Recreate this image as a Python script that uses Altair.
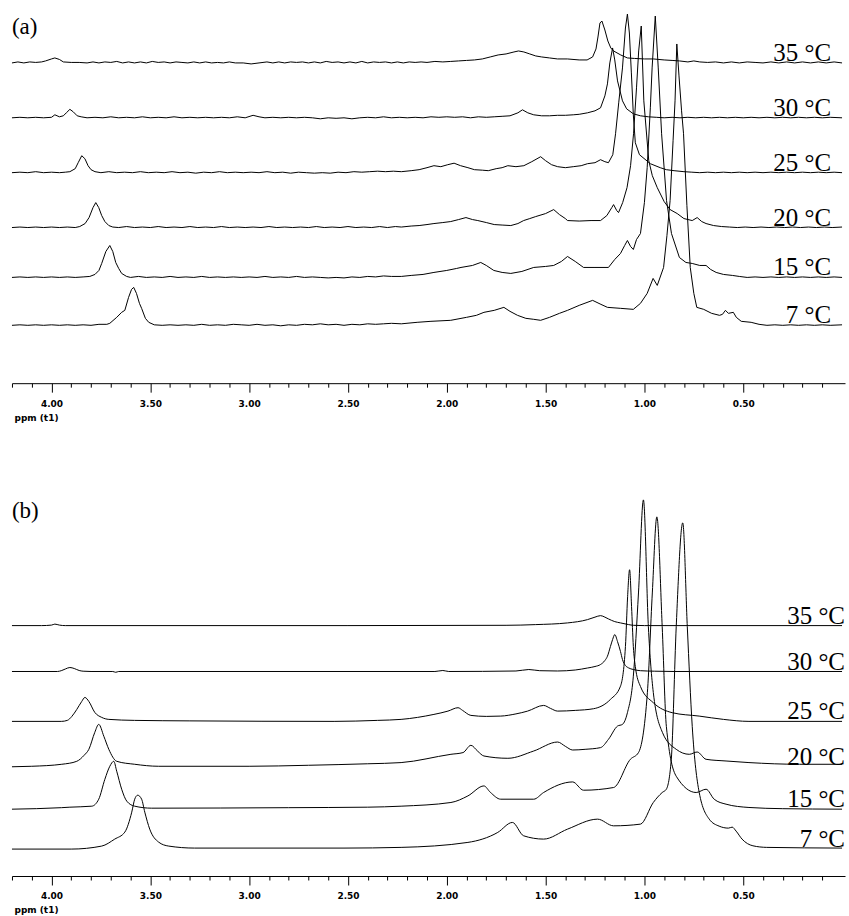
import altair as alt
import pandas as pd

# ---------------- data (ppm, intensity a.u.) ----------------
TEMPS = ["35 °C", "30 °C", "25 °C", "20 °C", "15 °C", "7 °C"]
A_OFFSETS = [321, 266, 211, 156, 106, 58]
B_OFFSETS = [251, 205, 155, 109, 67, 27]
PPM_TICKS = [4.2, 4.1, 4.0, 3.9, 3.8, 3.7, 3.6, 3.5, 3.4, 3.3, 3.2, 3.1, 3.0,
             2.9, 2.8, 2.7, 2.6, 2.5, 2.4, 2.3, 2.2, 2.1, 2.0, 1.9, 1.8, 1.7,
             1.6, 1.5, 1.4, 1.3, 1.2, 1.1, 1.0, 0.9, 0.8, 0.7, 0.6, 0.5, 0.4,
             0.3, 0.2, 0.1]

# panel (a)
A_35 = [(4.20,0),(4.17,1),(4.14,0),(4.11,1),(4.08,0.5),(4.05,1),(4.03,2),(4.00,4),(3.983,5),(3.96,3.5),
        (3.94,1),(3.90,0.5),(3.86,0.5),(3.82,0),(3.79,1),(3.76,0),(3.73,1),(3.70,0.5),(3.67,1.5),(3.64,0),
        (3.61,1),(3.58,0),(3.55,1),(3.52,0),(3.49,1.5),(3.46,0.5),(3.43,1),(3.40,0),(3.37,1),(3.34,0.5),
        (3.31,0),(3.28,1),(3.25,0),(3.22,1),(3.19,0),(3.16,0.5),(3.13,0),(3.10,1),(3.07,0),(3.03,0),
        (2.99,-1),(2.95,0),(2.91,1),(2.88,0),(2.85,1),(2.82,0),(2.79,1),(2.76,0.5),(2.73,1),(2.70,0),
        (2.67,1),(2.64,0),(2.61,1.5),(2.58,0.5),(2.55,1),(2.52,0),(2.49,1),(2.46,0),(2.43,1.5),(2.40,0),
        (2.37,1),(2.34,0.5),(2.31,1),(2.28,0),(2.25,1),(2.22,0),(2.19,1),(2.16,0.5),(2.13,1),(2.10,0.5),
        (2.06,1.5),(2.02,1),(1.98,1.5),(1.94,2),(1.90,2.5),(1.86,3),(1.82,4),(1.78,6),(1.74,8),(1.70,9),
        (1.66,11),(1.637,12),(1.61,11),(1.58,9),(1.55,7),(1.52,6),(1.48,5),(1.44,4),(1.39,4),(1.33,3),
        (1.29,3),(1.262,6),(1.245,14),(1.235,26),(1.225,40),(1.215,42),(1.20,33),(1.185,22),(1.17,15),
        (1.156,12),(1.12,8),(1.086,5),(1.05,4.5),(1.00,4),(0.955,4),(0.90,3),(0.86,2.5),(0.823,2),(0.78,1),
        (0.75,2),(0.72,1),(0.68,0.5),(0.64,1),(0.60,0),(0.56,1),(0.52,0),(0.48,1),(0.44,0.5),(0.40,0),
        (0.36,1),(0.32,0),(0.28,1),(0.24,0),(0.20,1),(0.16,0),(0.12,1),(0.08,0),(0.04,1),(0.00,0)]
A_30 = [(4.20,0),(4.16,0.5),(4.12,0),(4.08,0.5),(4.04,0),(4.00,0.5),(3.983,3),(3.96,1),(3.94,2),(3.925,5),
        (3.907,8.5),(3.89,6),(3.87,2),(3.85,1),(3.82,0),(3.78,0.5),(3.74,0),(3.70,1),(3.66,0),(3.62,0.5),
        (3.58,0),(3.54,1),(3.50,0),(3.46,0.5),(3.42,0),(3.38,1),(3.34,0),(3.30,0.5),(3.26,0),(3.22,0.5),
        (3.18,0),(3.14,0.5),(3.10,0),(3.06,1),(3.02,0),(2.98,2.5),(2.95,1),(2.92,0),(2.88,0.5),(2.84,0),
        (2.80,0.5),(2.76,0),(2.72,0.5),(2.68,0),(2.64,-1),(2.60,0),(2.56,-0.5),(2.52,0),(2.48,-1),(2.44,0),
        (2.40,0.5),(2.36,0),(2.32,1),(2.28,0),(2.24,0.5),(2.20,0),(2.16,0.5),(2.12,0),(2.08,1),(2.04,0.5),
        (2.00,1),(1.96,0.5),(1.92,1),(1.88,0),(1.84,1),(1.80,0.5),(1.76,1),(1.72,1.5),(1.68,2),(1.64,5),
        (1.617,8),(1.59,5),(1.56,3),(1.52,2),(1.48,2),(1.44,2.5),(1.40,2.5),(1.36,3),(1.33,3.5),(1.288,5),
        (1.25,7),(1.222,10),(1.20,22),(1.187,34),(1.175,55),(1.161,70),(1.15,58),(1.136,37),(1.111,17),
        (1.09,9),(1.056,4),(1.02,2),(0.98,1),(0.94,0.5),(0.90,0),(0.86,0.5),(0.82,0),(0.78,0.5),(0.74,0),
        (0.70,0.5),(0.66,0),(0.62,0.5),(0.58,0),(0.54,0.5),(0.50,0),(0.46,0.5),(0.42,0),(0.38,0.5),(0.34,0),
        (0.30,0.5),(0.26,0),(0.22,0.5),(0.18,0),(0.14,0.5),(0.10,0),(0.06,0.5),(0.00,0)]
A_25 = [(4.20,0),(4.16,0.5),(4.12,0),(4.08,1),(4.04,0),(4.00,0.5),(3.96,0),(3.93,0.5),(3.907,1),(3.88,4),
        (3.865,10),(3.847,17),(3.831,14),(3.815,7),(3.80,3),(3.78,1),(3.75,0),(3.71,1),(3.67,0),(3.63,0.5),
        (3.59,0),(3.55,1),(3.51,0),(3.47,0.5),(3.43,0),(3.39,1),(3.35,0),(3.31,0.5),(3.27,-0.5),(3.23,0.5),
        (3.19,0),(3.15,1),(3.11,0),(3.07,0.5),(3.03,0),(2.99,0.5),(2.95,0),(2.91,1),(2.87,0),(2.83,0.5),
        (2.79,-0.5),(2.75,0.5),(2.71,0),(2.67,-0.5),(2.63,0),(2.59,-0.5),(2.55,0.5),(2.51,0),(2.47,1),
        (2.43,0.5),(2.39,1),(2.35,1.5),(2.31,1),(2.27,1.5),(2.23,1),(2.18,2),(2.14,3),(2.10,5),(2.065,7),
        (2.03,6),(1.995,8),(1.963,9.5),(1.93,7),(1.893,5),(1.86,3),(1.82,2.5),(1.79,2),(1.75,4),(1.72,5),
        (1.691,7),(1.65,6),(1.61,7),(1.57,11),(1.525,16),(1.50,12),(1.47,8),(1.439,6),(1.40,5),(1.36,6),
        (1.32,7),(1.288,9),(1.25,10),(1.222,13),(1.20,11),(1.182,10),(1.16,18),(1.146,39),(1.13,70),
        (1.111,105),(1.096,145),(1.086,159),(1.076,140),(1.066,100),(1.056,58),(1.046,30),(1.025,18),
        (0.97,9),(0.92,5),(0.889,3),(0.85,2),(0.80,1),(0.76,0.5),(0.72,0),(0.68,0.5),(0.64,0),(0.60,0.5),
        (0.56,0),(0.52,0.5),(0.48,0),(0.44,0.5),(0.40,0),(0.36,0.5),(0.32,0),(0.28,0.5),(0.24,0),(0.20,0.5),
        (0.16,0),(0.12,0.5),(0.08,0),(0.04,0.5),(0.00,0)]
A_20 = [(4.20,0),(4.16,0.5),(4.12,0),(4.08,0.5),(4.04,0),(4.00,0.5),(3.96,0),(3.92,0.5),(3.88,0),(3.857,1),
        (3.83,4),(3.81,10),(3.79,20),(3.776,25),(3.761,20),(3.746,12),(3.73,6),(3.71,2),(3.69,0.5),(3.66,0),
        (3.62,1),(3.58,0),(3.54,0.5),(3.50,0),(3.46,1),(3.42,0),(3.38,0.5),(3.34,0),(3.30,1),(3.26,0),
        (3.22,0.5),(3.18,0),(3.14,1),(3.10,0),(3.06,0.5),(3.02,0),(2.98,0.5),(2.94,0),(2.90,1),(2.86,0),
        (2.82,0.5),(2.78,0),(2.74,0.5),(2.70,0),(2.66,1),(2.62,0),(2.58,0.5),(2.54,0),(2.50,1),(2.46,0),
        (2.42,0.5),(2.38,0),(2.34,1),(2.30,0),(2.26,1),(2.23,0.5),(2.18,1.5),(2.14,2),(2.10,3),(2.065,4),
        (2.02,5),(1.98,6),(1.94,8),(1.903,10),(1.87,8),(1.843,7),(1.80,5),(1.76,3),(1.72,2.5),(1.676,2),
        (1.64,4),(1.611,7),(1.58,9),(1.55,11),(1.50,14),(1.459,18),(1.43,13),(1.40,9),(1.389,7),(1.33,6.5),
        (1.27,7),(1.222,7),(1.19,12),(1.165,20),(1.156,23),(1.14,17),(1.131,15),(1.11,25),(1.088,40),
        (1.07,62),(1.055,94),(1.04,140),(1.029,177),(1.016,202),(1.003,127),(0.978,67),(0.96,52),(0.935,40),
        (0.90,26),(0.87,18),(0.834,14),(0.80,9),(0.758,7),(0.733,10),(0.71,6),(0.688,4),(0.65,2),(0.61,1),
        (0.57,0.5),(0.53,0),(0.49,0.5),(0.45,0),(0.41,0.5),(0.37,0),(0.33,0.5),(0.29,0),(0.25,0.5),(0.21,0),
        (0.17,0.5),(0.13,0),(0.09,0.5),(0.05,0),(0.00,0.5)]
A_15 = [(4.20,0),(4.16,0.5),(4.12,0),(4.08,0.5),(4.04,0),(4.00,0.5),(3.96,0),(3.92,0.5),(3.88,0),(3.84,0.5),
        (3.806,1),(3.78,3),(3.76,7),(3.746,14),(3.725,26),(3.705,32),(3.69,26),(3.675,15),(3.66,9),(3.645,4),
        (3.62,1),(3.60,0),(3.56,1),(3.52,0),(3.48,0.5),(3.44,0),(3.40,1),(3.36,0),(3.32,0.5),(3.28,0),
        (3.24,1),(3.20,0),(3.16,0.5),(3.12,0),(3.08,0.5),(3.04,0),(3.00,0.5),(2.96,0),(2.92,1),(2.88,0),
        (2.84,0.5),(2.80,0),(2.76,1),(2.72,0),(2.68,0.5),(2.64,0),(2.60,-0.5),(2.56,0),(2.52,-0.5),(2.48,0.5),
        (2.44,0),(2.40,1),(2.36,0.5),(2.32,1.5),(2.28,1),(2.23,1),(2.18,2),(2.12,3),(2.065,5),(2.00,7),
        (1.95,9),(1.928,10),(1.87,12),(1.828,15),(1.80,12),(1.762,7),(1.72,5),(1.676,4),(1.62,6),(1.56,10),
        (1.50,11),(1.459,12),(1.42,16),(1.389,21),(1.35,16),(1.308,10),(1.25,10),(1.182,10),(1.15,18),
        (1.121,24),(1.10,32),(1.086,37),(1.070,31),(1.056,28),(1.04,38),(1.020,44),(1.00,75),(0.986,110),
        (0.970,170),(0.961,210),(0.945,262),(0.930,210),(0.913,144),(0.888,77),(0.863,44),(0.823,20),
        (0.79,15),(0.758,14),(0.72,12),(0.688,12),(0.665,8),(0.637,5),(0.60,3),(0.555,2),(0.52,1),(0.48,0),
        (0.44,0.5),(0.40,0),(0.36,0.5),(0.32,0),(0.28,0.5),(0.24,0),(0.20,0.5),(0.16,0),(0.12,0.5),(0.08,0),
        (0.04,0.5),(0.00,0)]
A_07 = [(4.20,0),(4.16,0.5),(4.12,0),(4.08,0.5),(4.04,0),(4.00,0.5),(3.96,0),(3.92,0.5),(3.88,0),(3.84,0.5),
        (3.80,0),(3.76,1),(3.72,1),(3.705,2),(3.67,8),(3.645,13),(3.629,15),(3.61,28),(3.595,36),(3.584,38),
        (3.57,32),(3.555,22),(3.544,17),(3.525,7),(3.508,3),(3.48,0.5),(3.44,0),(3.40,0.5),(3.36,0),(3.32,0.5),
        (3.28,0),(3.24,1),(3.20,0),(3.16,0.5),(3.12,0),(3.08,1),(3.04,0.5),(3.00,0),(2.96,1),(2.92,0),
        (2.88,0.5),(2.84,-0.5),(2.80,0.5),(2.76,0),(2.72,1),(2.68,0.5),(2.64,1.5),(2.60,0.5),(2.56,1),(2.52,0),
        (2.48,1),(2.44,0.5),(2.40,1.5),(2.36,1),(2.32,1.5),(2.28,2),(2.23,1.5),(2.15,3),(2.08,4),(1.98,5),
        (1.90,8),(1.85,10),(1.812,13),(1.76,15),(1.711,18),(1.68,14),(1.642,10),(1.60,7),(1.56,6),(1.525,5),
        (1.48,8),(1.43,12),(1.389,15),(1.33,20),(1.262,25),(1.22,21),(1.187,18),(1.12,17),(1.056,16),
        (1.02,22),(0.986,32),(0.956,47),(0.935,40),(0.903,58),(0.886,90),(0.870,125),(0.855,185),(0.845,225),
        (0.836,282),(0.825,250),(0.812,215),(0.802,192),(0.785,120),(0.768,58),(0.75,32),(0.735,18),
        (0.70,16),(0.66,12),(0.62,10),(0.605,11),(0.59,15),(0.575,12),(0.55,13),(0.535,8),(0.51,4),(0.46,3),
        (0.42,1),(0.38,0),(0.34,0.5),(0.30,0),(0.26,0.5),(0.22,0),(0.18,0.5),(0.14,0),(0.10,0.5),(0.06,0),
        (0.00,0.5)]

# panel (b)
B_35 = [(4.20,0),(4.05,0),(4.00,0.5),(3.983,1.5),(3.96,0.5),(3.93,0),(2.50,0),(1.70,0.3),(1.55,1),
        (1.389,2.7),(1.288,6),(1.25,8.5),(1.222,10),(1.20,8.5),(1.182,6.7),(1.15,4),(1.121,2.7),(1.08,1),
        (1.056,0.3),(1.00,0),(0.00,0)]
B_30 = [(4.20,0),(3.97,0),(3.948,1),(3.93,2.5),(3.907,4),(3.885,3),(3.86,1),(3.84,0.3),(3.80,0),(3.69,0),
        (3.675,-0.8),(3.66,0),(2.06,0),(2.02,1),(1.99,0),(1.65,0.5),(1.585,2),(1.53,0.8),(1.44,0.5),
        (1.35,1.5),(1.288,3.5),(1.25,5),(1.222,7),(1.20,11),(1.187,15.3),(1.172,25),(1.161,32),(1.15,37),
        (1.136,30),(1.121,20),(1.111,12),(1.096,6),(1.081,3.7),(1.056,2),(1.02,0.8),(0.95,0.3),(0.85,0),
        (0.00,0)]
B_25 = [(4.20,0),(3.95,0),(3.92,1),(3.897,5),(3.872,12),(3.847,20),(3.831,24),(3.811,20),(3.781,9),
        (3.746,4),(3.710,2),(3.58,1),(3.30,0.5),(2.57,0),(2.35,1),(2.231,2),(2.065,7),(1.994,10.3),
        (1.943,13.7),(1.92,11),(1.878,6),(1.80,5),(1.727,5.3),(1.65,7.5),(1.591,10.3),(1.510,16),(1.475,13),
        (1.439,10.3),(1.35,11),(1.257,12.7),(1.172,22),(1.121,35.3),(1.096,75),(1.085,125),(1.075,152),
        (1.065,115),(1.056,75),(1.046,55),(1.020,35),(0.955,18.7),(0.859,8.7),(0.723,5.3),(0.60,2),
        (0.471,0),(0.00,0)]
B_20 = [(4.20,0.5),(4.10,1),(3.948,3),(3.872,6),(3.835,12),(3.811,18),(3.781,35),(3.761,43),(3.735,31),
        (3.710,18),(3.670,6),(3.579,3),(3.458,1),(3.00,1),(2.70,2),(2.40,3.5),(2.231,4.7),(1.979,13),
        (1.918,14.7),(1.878,22),(1.843,16),(1.812,11.3),(1.691,9),(1.560,16.3),(1.439,25.3),(1.40,21),
        (1.363,17.3),(1.30,18),(1.222,19.7),(1.182,28),(1.136,41.3),(1.111,43),(1.086,54.7),(1.056,91.3),
        (1.030,174.7),(1.005,268),(0.980,141),(0.955,75),(0.909,35),(0.839,18),(0.773,13),(0.733,15.3),
        (0.688,8),(0.587,6.3),(0.471,4.7),(0.215,3),(0.00,3)]
B_15 = [(4.20,0),(3.95,1.5),(3.907,2),(3.796,3),(3.761,10),(3.730,30),(3.705,43),(3.685,48),(3.670,38),
        (3.645,20),(3.619,8),(3.579,3),(3.493,1),(2.80,1.5),(2.40,2),(2.231,3),(1.979,6.7),(1.893,13.3),
        (1.812,23.3),(1.78,17),(1.727,10),(1.560,10),(1.510,16.7),(1.363,27.3),(1.308,19),(1.156,21.7),
        (1.071,50),(1.030,56.7),(0.985,116.7),(0.960,216.7),(0.937,293),(0.910,183),(0.889,83),(0.839,33),
        (0.738,16.7),(0.688,20),(0.647,10),(0.587,5),(0.471,1.7),(0.30,0.5),(0.00,0)]
B_07 = [(4.20,0),(3.90,0),(3.746,3),(3.680,10),(3.629,17),(3.594,37),(3.579,50),(3.564,54),(3.544,50),
        (3.528,37),(3.503,20),(3.458,7),(3.407,3),(3.276,1),(2.52,1),(2.231,1.7),(1.893,6.7),(1.742,16.7),
        (1.668,26.7),(1.611,13.3),(1.510,10),(1.389,20),(1.237,30),(1.156,23.3),(1.020,25),(0.955,46.7),
        (0.910,56.7),(0.889,60),(0.864,90),(0.839,223),(0.806,327),(0.783,223),(0.758,123),(0.723,57),
        (0.672,30),(0.622,23),(0.575,21),(0.556,22),(0.536,18),(0.506,10),(0.451,3.3),(0.381,1.7),(0.00,1)]

A_TRACES = [A_35, A_30, A_25, A_20, A_15, A_07]
B_TRACES = [B_35, B_30, B_25, B_20, B_15, B_07]

# ---------------- chart ----------------
MAJOR = "abs(datum.value*2 - round(datum.value*2)) < 0.01"
PLOT_W = 835


def make_axis():
    return alt.Axis(
        values=PPM_TICKS,
        labelExpr=f"{MAJOR} ? format(datum.value, '.2f') : ''",
        tickSize={"condition": {"test": MAJOR, "value": 9}, "value": 4},
        tickColor="black", tickWidth=1,
        domainColor="black", domainWidth=1,
        labelFont="DejaVu Sans", labelFontWeight="bold",
        labelFontSize=9, labelColor="black", labelPadding=7,
        labelOverlap=False, labelFlush=False, labelBound=False,
        grid=False,
        title="ppm (t1)", titleFont="DejaVu Sans",
        titleFontWeight="bold", titleFontSize=9, titleColor="black",
        titleAnchor="start", titleAlign="left", titleBaseline="middle",
        titleX=2, titleY=34,
    )


def panel(traces, offsets, height, tag, tag_y, interp, text_right):
    rows = []
    for temp, pts, off in zip(TEMPS, traces, offsets):
        for p, h in pts:
            rows.append({"ppm": p, "y": h + off, "temp": temp})
    df = pd.DataFrame(rows)
    xenc = alt.X("ppm:Q", scale=alt.Scale(domain=[4.2, -0.015], nice=False, zero=False),
                 axis=make_axis())
    yscale = alt.Scale(domain=[0, height], nice=False, zero=False)
    lines = alt.Chart(df).mark_line(color="black", strokeWidth=1, interpolate=interp).encode(
        x=xenc, y=alt.Y("y:Q", scale=yscale, axis=None), detail="temp:N")
    lab_df = pd.DataFrame({"temp": TEMPS, "off": offsets})
    labels = alt.Chart(lab_df).mark_text(
        font="Liberation Serif", fontSize=25, align="right", baseline="alphabetic",
        dy=-2, color="black").encode(
        x=alt.value(text_right), y=alt.Y("off:Q", scale=yscale, axis=None), text="temp:N")
    tagc = alt.Chart(pd.DataFrame({"t": [tag]})).mark_text(
        font="Liberation Serif", fontSize=23, align="left", baseline="middle",
        color="black").encode(x=alt.value(0), y=alt.value(tag_y), text="t:N")
    return alt.layer(lines, labels, tagc).properties(width=PLOT_W, height=height)


pa = panel(A_TRACES, A_OFFSETS, 375, "(a)", 18, "linear", 821)
pb = panel(B_TRACES, B_OFFSETS, 387, "(b)", 21, "monotone", 835)

chart = alt.vconcat(pa, pb, spacing=107, bounds="flush").properties(
    padding={"left": 10, "top": 8, "right": 4, "bottom": 0},
    background="white",
).configure_view(stroke=None)

chart.save("out.html", embed_options={"renderer": "svg", "actions": False})
